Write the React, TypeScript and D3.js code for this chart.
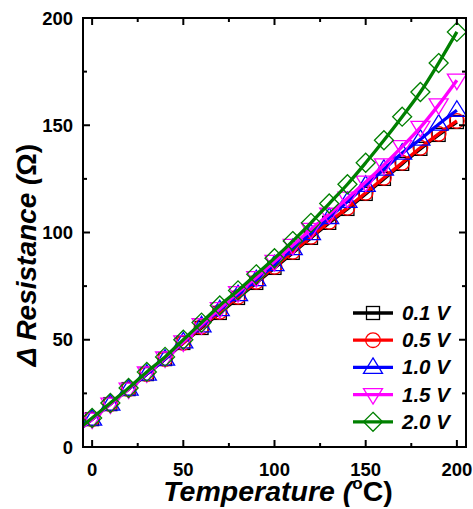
import React from "react";
import * as d3 from "d3";

const temperatures = [0, 10, 20, 30, 40, 50, 60, 70, 80, 90, 100, 110, 120, 130, 140, 150, 160, 170, 180, 190, 200];
const v01 = [13, 20, 27, 34, 41, 48.5, 55.5, 62.5, 69.5, 76.5, 83.5, 90.5, 97.5, 104.5, 111, 118, 125, 132, 139, 145.5, 151.5];
const v05 = [13, 20, 27, 34, 41, 48.5, 56, 63, 70, 77, 84, 91, 98, 105, 111.5, 118.5, 125.5, 132.5, 139.5, 146, 152];
const v10 = [13, 20, 27, 34, 41, 49, 56.5, 64, 71, 78, 85, 92.5, 99.5, 107, 114.5, 122, 129.5, 137, 143.5, 150.5, 157];
const v15 = [13, 20, 27, 34.5, 41.5, 49, 57, 64.5, 72, 79, 86.5, 94, 101.5, 108.5, 116, 123.5, 131.5, 140, 149, 159.5, 171];
const v20 = [13.5, 20.5, 27.5, 35, 42, 50, 58, 66, 73, 80.5, 88, 96, 104.5, 113.5, 122.5, 132.5, 143, 154, 165.5, 179, 193.5];
const lineStartTemp = -5;
const lineStartValues = [9.5, 9.5, 9.5, 9.5, 10];

const seriesLabels = ["0.1 V", "0.5 V", "1.0 V", "1.5 V", "2.0 V"];
const seriesColors = ["#000000", "#ff0000", "#0000ff", "#ff00ff", "#008000"];
const seriesShapes = ["square", "circle", "triUp", "triDown", "diamond"];
const seriesValues = [v01, v05, v10, v15, v20];

const xMajorTicks = [0, 50, 100, 150, 200];
const xMinorTicks = [25, 75, 125, 175];
const yMajorTicks = [0, 50, 100, 150, 200];
const yMinorTicks = [25, 75, 125, 175];

const W = 473, H = 509;
const L = 83, R = 466, T = 18, B = 447;
const FONT = "'Liberation Sans', Arial, Helvetica, sans-serif";

function Marker({ shape, x, y, color }: { shape: string; x: number; y: number; color: string }) {
  const sw = 1.3;
  if (shape === "square") return <rect x={x - 6.5} y={y - 6.5} width={13} height={13} fill="none" stroke={color} strokeWidth={sw} />;
  if (shape === "circle") return <circle cx={x} cy={y} r={7.3} fill="none" stroke={color} strokeWidth={sw} />;
  if (shape === "triUp") return <path d={`M${x},${y - 9.5} L${x + 9.5},${y + 6} L${x - 9.5},${y + 6} Z`} fill="none" stroke={color} strokeWidth={sw} />;
  if (shape === "triDown") return <path d={`M${x},${y + 9.5} L${x + 9.5},${y - 6} L${x - 9.5},${y - 6} Z`} fill="none" stroke={color} strokeWidth={sw} />;
  return <path d={`M${x},${y - 9.5} L${x + 9.5},${y} L${x},${y + 9.5} L${x - 9.5},${y} Z`} fill="none" stroke={color} strokeWidth={sw} />;
}

export default function App() {
  const x = d3.scaleLinear().domain([-5, 205]).range([L, R]);
  const y = d3.scaleLinear().domain([0, 200]).range([B, T]);
  const line = d3.line<[number, number]>().x(d => x(d[0])).y(d => y(d[1])).curve(d3.curveCatmullRom);

  const legendX = 353, legendY0 = 313, legendDy = 27.2;

  return (
    <svg width={W} height={H} style={{ position: "absolute", left: 0, top: 0, background: "#fff" }} fontFamily={FONT}>
      <defs>
        <clipPath id="clip"><rect x={L} y={T} width={R - L} height={B - T} /></clipPath>
      </defs>
      <g clipPath="url(#clip)">
        {seriesValues.map((vals, i) => {
          const pts: [number, number][] = [[lineStartTemp, lineStartValues[i]], ...temperatures.map((t, j) => [t, vals[j]] as [number, number])];
          return (
            <g key={i}>
              {temperatures.map((t, j) => (
                <Marker key={j} shape={seriesShapes[i]} x={x(t)} y={y(vals[j])} color={seriesColors[i]} />
              ))}
              <path d={line(pts) || ""} fill="none" stroke={seriesColors[i]} strokeWidth={3.3} />
            </g>
          );
        })}
      </g>
      {/* frame */}
      <rect x={L} y={T} width={R - L} height={B - T} fill="none" stroke="#000" strokeWidth={2} />
      {/* ticks */}
      {xMajorTicks.map(t => (
        <g key={"xm" + t}>
          <line x1={x(t)} x2={x(t)} y1={B} y2={B - 7} stroke="#000" strokeWidth={2} />
          <line x1={x(t)} x2={x(t)} y1={T} y2={T + 7} stroke="#000" strokeWidth={2} />
          <text x={x(t)} y={B + 29} textAnchor="middle" fontSize={18.5} fontWeight="bold">{t}</text>
        </g>
      ))}
      {xMinorTicks.map(t => (
        <g key={"xn" + t}>
          <line x1={x(t)} x2={x(t)} y1={B} y2={B - 4} stroke="#000" strokeWidth={2} />
          <line x1={x(t)} x2={x(t)} y1={T} y2={T + 4} stroke="#000" strokeWidth={2} />
        </g>
      ))}
      {yMajorTicks.map(t => (
        <g key={"ym" + t}>
          <line x1={L} x2={L + 7} y1={y(t)} y2={y(t)} stroke="#000" strokeWidth={2} />
          <line x1={R} x2={R - 7} y1={y(t)} y2={y(t)} stroke="#000" strokeWidth={2} />
          <text x={73} y={y(t) + 6.5} textAnchor="end" fontSize={18.5} fontWeight="bold">{t}</text>
        </g>
      ))}
      {yMinorTicks.map(t => (
        <g key={"yn" + t}>
          <line x1={L} x2={L + 4} y1={y(t)} y2={y(t)} stroke="#000" strokeWidth={2} />
          <line x1={R} x2={R - 4} y1={y(t)} y2={y(t)} stroke="#000" strokeWidth={2} />
        </g>
      ))}
      {/* axis titles */}
      <text x={278} y={501} textAnchor="middle" fontSize={28.5} fontWeight="bold" fontStyle="italic">
        Temperature (<tspan fontStyle="normal" fontSize={17} dy={-12}>o</tspan><tspan fontStyle="normal" dy={12}>C)</tspan>
      </text>
      <text transform={`translate(36,255) rotate(-90)`} textAnchor="middle" fontSize={28} fontWeight="bold" fontStyle="italic">
        Δ Resistance (<tspan fontStyle="normal">Ω)</tspan>
      </text>
      {/* legend */}
      {seriesLabels.map((lab, i) => {
        const ly = legendY0 + i * legendDy;
        return (
          <g key={lab}>
            <line x1={legendX} x2={legendX + 40} y1={ly} y2={ly} stroke={seriesColors[i]} strokeWidth={3.3} />
            <Marker shape={seriesShapes[i]} x={legendX + 20} y={ly} color={seriesColors[i]} />
            <text x={402} y={ly + 7} fontSize={20.5} fontWeight="bold" fontStyle="italic">{lab}</text>
          </g>
        );
      })}
    </svg>
  );
}
